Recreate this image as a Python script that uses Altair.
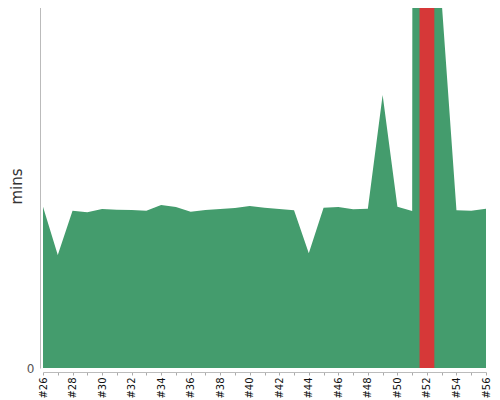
import altair as alt
import pandas as pd

builds = list(range(26, 57))
mins = [17.73, 12.42, 17.29, 17.11, 17.47, 17.40, 17.36, 17.29, 17.91, 17.69,
        17.18, 17.36, 17.47, 17.58, 17.80, 17.62, 17.47, 17.33, 12.60, 17.62,
        17.69, 17.44, 17.51, 30.0, 17.73, 17.25, 2000.0, 40.2, 17.33, 17.29,
        17.51]
highlight_build = 52
y_max = 40

df = pd.DataFrame({"build": builds, "mins": mins})

x_scale = alt.Scale(domain=[builds[0], builds[-1]], nice=False, zero=False)
x_axis = alt.Axis(
    values=builds,
    labelExpr="datum.value % 2 == 0 ? '#' + datum.value : ''",
    labelAngle=-90,
    labelOverlap=False,
    labelFontSize=10,
    labelColor="#111",
    labelFont="DejaVu Sans",
    labelPadding=2,
    tickSize=3,
    tickColor="#aaa",
    domainColor="#bbb",
    grid=False,
    offset=4,
    title=None,
)

y_scale = alt.Scale(domain=[0, y_max], nice=False)
y_axis = alt.Axis(
    values=[0],
    ticks=False,
    grid=False,
    domainColor="#bbb",
    labelFontSize=12,
    labelColor="#555",
    labelFont="DejaVu Sans",
    labelPadding=6,
    labelOverlap=False,
    offset=3,
    title="mins",
    titleFont="DejaVu Sans",
    titleFontSize=15,
    titleFontWeight="normal",
    titleColor="#333",
    titlePadding=2,
)

area = alt.Chart(df).mark_area(color="#449c6d", opacity=1, clip=True).encode(
    x=alt.X("build:Q", scale=x_scale, axis=x_axis),
    y=alt.Y("mins:Q", scale=y_scale, axis=y_axis),
)

red = (
    alt.Chart(df)
    .transform_filter(alt.datum.build == highlight_build)
    .transform_calculate(x0="datum.build - 0.5", x1="datum.build + 0.5")
    .mark_rect(color="#d63838", clip=True)
    .encode(
        x=alt.X("x0:Q", scale=x_scale, axis=x_axis),
        x2="x1:Q",
        y=alt.Y("mins:Q", scale=y_scale, axis=y_axis),
        y2=alt.datum(0),
    )
)

chart = (
    alt.layer(area, red)
    .properties(
        width=443,
        height=364,
        autosize=alt.AutoSizeParams(type="none"),
        padding={"left": 35, "top": -4, "right": 6, "bottom": 30},
    )
    .configure_view(stroke=None)
    .configure_axis(labelOverlap=False)
)

chart.save("out.html", embed_options={"renderer": "svg", "actions": False})
